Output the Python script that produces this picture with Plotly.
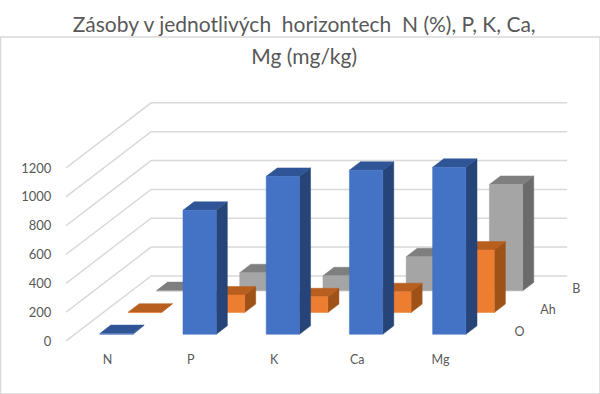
import plotly.graph_objects as go

categories = ["N", "P", "K", "Ca", "Mg"]
horizons = ["O", "Ah", "B"]
values_O = [5, 860, 1095, 1138, 1158]
values_Ah = [3, 122, 110, 145, 434]
values_B = [2, 126, 105, 237, 738]
y_ticks = [0, 200, 400, 600, 800, 1000, 1200]

front = ["#4472C4", "#ED7D31", "#A5A5A5"]
top = ["#2F5597", "#B85F20", "#7F7F7F"]
side = ["#264478", "#9E5218", "#6B6B6B"]
grid = "#D9D9D9"
text = "#595959"
FONT = "Lato, Carlito, 'Open Sans', sans-serif"

# Oblique projection of the 3-D chart: one horizon of depth moves a point
# right by KX categories and up by KY value units.
KX = 28.4 / 83.3
KY = 21.7 / 0.1442
BAR_W = 0.4          # bar width in category units
D0, D1 = 0.31, 0.70  # bar front and back within its horizon band


def proj(cat, depth, val):
    return cat + depth * KX, val + depth * KY


def poly(points):
    xs, ys = [], []
    for c, d, v in points + [points[0]]:
        x, y = proj(c, d, v)
        xs.append(x)
        ys.append(y)
    xs.append(None)
    ys.append(None)
    return xs, ys


def faces(values, s):
    out = {"side": ([], []), "top": ([], []), "front": ([], [])}
    d0, d1 = s + D0, s + D1
    for i, v in enumerate(values):
        l, r = i - BAR_W / 2, i + BAR_W / 2
        for key, pts in (
            ("side", [(r, d0, 0), (r, d1, 0), (r, d1, v), (r, d0, v)]),
            ("top", [(l, d0, v), (r, d0, v), (r, d1, v), (l, d1, v)]),
            ("front", [(l, d0, 0), (r, d0, 0), (r, d0, v), (l, d0, v)]),
        ):
            xs, ys = poly(pts)
            out[key][0].extend(xs)
            out[key][1].extend(ys)
    return out


fig = go.Figure()

# Gridlines: side wall from the front edge to the back, then along the back wall
gx, gy = [], []
n_cat, n_hor = len(categories), len(horizons)
for t in y_ticks:
    for c, d in ((-0.5, 0), (-0.5, n_hor), (n_cat - 0.5, n_hor)):
        x, y = proj(c, d, t)
        gx.append(x)
        gy.append(y)
    gx.append(None)
    gy.append(None)
fig.add_trace(go.Scatter(x=gx, y=gy, mode="lines", line=dict(color=grid, width=1.5),
                         hoverinfo="skip", showlegend=False))

# Bars, painted back to front
series = [values_O, values_Ah, values_B]
for s in reversed(range(len(series))):
    f = faces(series[s], s)
    for key, col in (("side", side[s]), ("top", top[s]), ("front", front[s])):
        fig.add_trace(go.Scatter(x=f[key][0], y=f[key][1], mode="lines", fill="toself",
                                 fillcolor=col, line=dict(color=col, width=0.5),
                                 name=f"{horizons[s]} {key}", showlegend=False, hoverinfo="skip"))

# Depth-axis labels
lx, ly = zip(*[proj(n_cat - 0.5 + 0.28, s + 0.5, -20) for s in range(n_hor)])
fig.add_trace(go.Scatter(x=lx, y=ly, mode="text", text=horizons, cliponaxis=False,
                         textfont=dict(family=FONT, size=12.5, color=text),
                         hoverinfo="skip", showlegend=False))

W, H = 600, 394
left, right = 65.5, 585
ybot, ytop = 341, 90
fig.update_layout(
    width=W, height=H, autosize=False,
    paper_bgcolor="white", plot_bgcolor="white",
    margin=dict(l=left, r=W - right, t=ytop, b=H - ybot, pad=0),
    title=dict(text="<span style='font-size:21px'>Zásoby v jednotlivých\u00a0 horizontech\u00a0 N (%), P, K, Ca,<br>Mg (mg/kg)</span>",
               x=0.507, xanchor="center", y=0.918, yanchor="top",
               font=dict(family=FONT, size=24, color=text)),
    xaxis=dict(range=[-0.5, (right - left) / 83.3 - 0.5], tickvals=list(range(n_cat)),
               ticktext=categories, showgrid=False, zeroline=False, showline=False,
               ticks="outside", ticklen=7, tickcolor="rgba(0,0,0,0)",
               tickfont=dict(family=FONT, size=12.5, color=text)),
    yaxis=dict(range=[0, (ybot - ytop) / 0.1442], tickvals=y_ticks, showgrid=False,
               zeroline=False, showline=False, ticks="outside", ticklen=11,
               tickcolor="rgba(0,0,0,0)", tickfont=dict(family=FONT, size=13, color=text)),
    shapes=[dict(type="rect", xref="paper", yref="paper", x0=-left / (right - left),
                 x1=(W - left) / (right - left), y0=-(H - ybot) / (ybot - ytop),
                 y1=(H - ytop) / (ybot - ytop), line=dict(color=grid, width=1.5),
                 fillcolor="rgba(0,0,0,0)")],
)
fig.write_html("out.html", config={"displayModeBar": False},
               post_script="document.body.style.margin='0';document.documentElement.style.overflow='hidden';")
